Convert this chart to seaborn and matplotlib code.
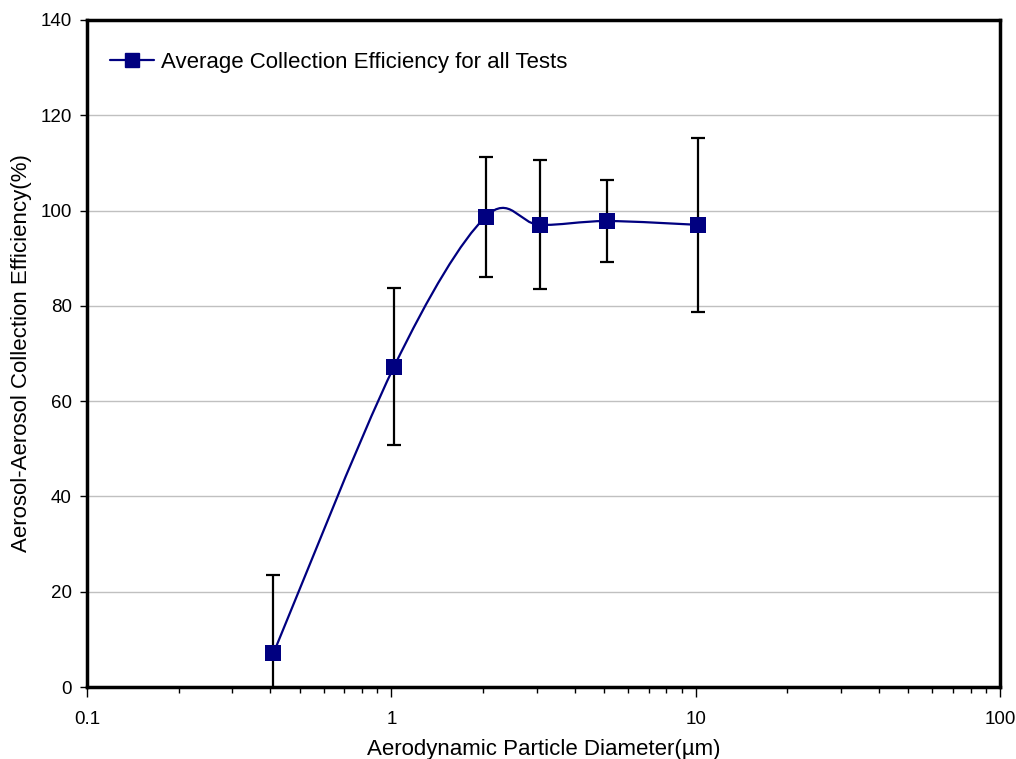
import numpy as np
import pandas as pd
import seaborn as sns
import matplotlib
matplotlib.use("Agg")
import matplotlib.pyplot as plt
from matplotlib.path import Path
from matplotlib.patches import PathPatch
from matplotlib.lines import Line2D
from matplotlib.ticker import LogLocator, NullFormatter, FixedLocator, FuncFormatter

diameter = [0.41, 1.02, 2.04, 3.07, 5.1, 10.2]
efficiency = [7.1, 67.2, 98.7, 97.0, 97.8, 97.0]
err_upper = [16.4, 16.5, 12.5, 13.6, 8.6, 18.2]
err_lower = [16.4, 16.4, 12.6, 13.5, 8.6, 18.3]
series_label = "Average Collection Efficiency for all Tests"

df = pd.DataFrame({"d": diameter, "eff": efficiency})

sns.set_theme(style="white")
plt.rcParams['font.family'] = ['Liberation Sans', 'DejaVu Sans']
plt.rcParams['text.color'] = 'black'
plt.rcParams['axes.labelcolor'] = 'black'
plt.rcParams['xtick.color'] = 'black'
plt.rcParams['ytick.color'] = 'black'

fig = plt.figure(figsize=(10.16, 7.59), dpi=100)
ax = fig.add_axes([87/1016, 1 - 687/759, (1000-87)/1016, (687-20)/759])
ax.set_xscale("log")
ax.set_xlim(0.1, 100)
ax.set_ylim(0, 140)

ax.yaxis.set_major_locator(FixedLocator(np.arange(0, 141, 20)))
ax.grid(axis="y", color="#c0c0c0", linewidth=1.0)
ax.grid(axis="x", visible=False)
ax.set_axisbelow(True)

ax.errorbar(diameter, efficiency, yerr=[err_lower, err_upper], fmt="none",
            ecolor="black", elinewidth=1.6, capsize=5, capthick=1.6, zorder=3)

# Excel-style smoothed line (bezier through the data points, log-x space)
lx = np.log10(diameter)
yv = np.array(efficiency)
P = np.column_stack([lx, yv])
n = len(P)
verts = [P[0]]
codes = [Path.MOVETO]
for i in range(n - 1):
    p0 = P[i - 1] if i > 0 else P[i]
    p1 = P[i]
    p2 = P[i + 1]
    p3 = P[i + 2] if i + 2 < n else P[i + 1]
    c1 = p1 + (p2 - p0) / 6.0
    c2 = p2 - (p3 - p1) / 6.0
    verts += [c1, c2, p2]
    codes += [Path.CURVE4] * 3
verts = np.array(verts)
verts[:, 0] = 10 ** verts[:, 0]
ax.add_patch(PathPatch(Path(verts, codes), facecolor="none", edgecolor="#000080",
                       linewidth=1.6, zorder=4))

sns.scatterplot(data=df, x="d", y="eff", marker="s", s=140, color="#000080",
                edgecolor="#000080", linewidth=0, ax=ax, zorder=5, legend=False)

h = Line2D([], [], color="#000080", linewidth=1.6, marker="s", markersize=10,
           markerfacecolor="#000080", markeredgecolor="#000080")
ax.legend([h], [series_label], loc="upper left", frameon=False, fontsize=16,
          bbox_to_anchor=(0.008, 0.975), handlelength=2.0, handletextpad=0.3,
          borderaxespad=0.3)

for s in ax.spines.values():
    s.set_visible(True)
    s.set_color("black")
    s.set_linewidth(2.5)

ax.xaxis.set_major_locator(LogLocator(base=10, numticks=10))
ax.xaxis.set_minor_locator(LogLocator(base=10, subs=np.arange(2, 10), numticks=20))
ax.xaxis.set_minor_formatter(NullFormatter())
ax.xaxis.set_major_formatter(FuncFormatter(lambda v, p: f"{v:g}"))
ax.tick_params(axis="both", which="major", direction="out", length=5, width=1,
               color="black", labelsize=13.5, pad=6, bottom=True, left=True)
ax.tick_params(axis="x", which="minor", direction="out", length=4, width=1,
               color="black", bottom=True)
ax.tick_params(axis="x", which="major", length=7, pad=10)

ax.set_xlabel("Aerodynamic Particle Diameter(µm)", fontsize=16, labelpad=8)
ax.set_ylabel("Aerosol-Aerosol Collection Efficiency(%)", fontsize=16, labelpad=6)

fig.savefig("out.png", dpi=100)
